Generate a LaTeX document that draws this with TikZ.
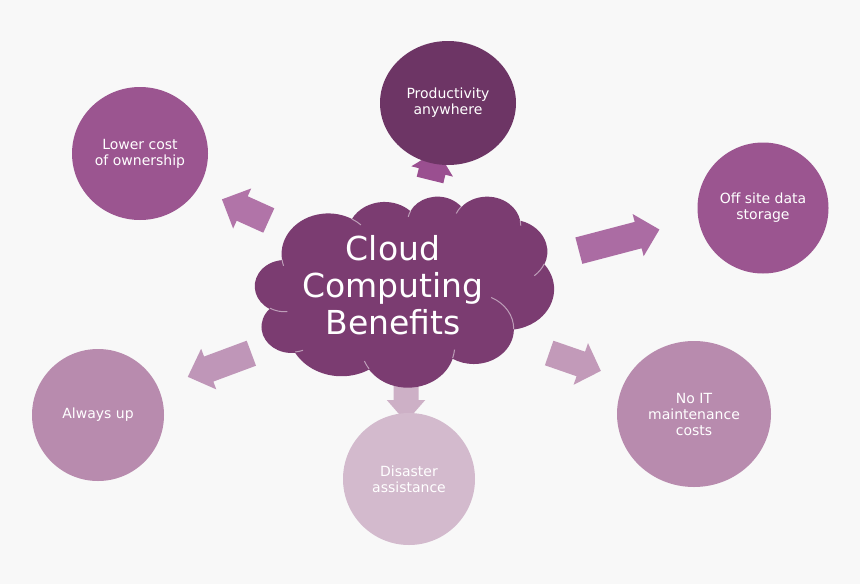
\documentclass[tikz,border=0pt]{standalone}
\usepackage{fontspec}
\setmainfont{DejaVu Sans}
\usetikzlibrary{shapes.geometric}
\definecolor{bgcol}{HTML}{F8F8F8}
\definecolor{cloudcol}{HTML}{7B3C71}
\definecolor{prodcol}{HTML}{6D3565}
\definecolor{midcol}{HTML}{9B5590}
\definecolor{lightcol}{HTML}{B88BAE}
\definecolor{palecol}{HTML}{D3BACD}
\definecolor{arrA}{HTML}{9A4F90}
\definecolor{arrB}{HTML}{B174A8}
\definecolor{arrC}{HTML}{AB6CA3}
\definecolor{arrD}{HTML}{BF96B8}
\definecolor{arrE}{HTML}{C29AB9}
\definecolor{arrF}{HTML}{CDB0C6}
\newcommand\cldcalc[4]{%
  \pgfmathparse{atan2((#1)*sin(#3),(#2)*cos(#3))}\xdef\cldS{\pgfmathresult}%
  \pgfmathparse{atan2((#1)*sin((#3)+(#4)),(#2)*cos((#3)+(#4)))}\xdef\cldE{\pgfmathresult}%
  \pgfmathparse{\cldE-\cldS}\xdef\cldT{\pgfmathresult}%
  \pgfmathparse{\cldT-360*((\cldT-(#4))>180)+360*((\cldT-(#4))<-180)}\xdef\cldD{\pgfmathresult}%
}
\newcommand\blockarrow[8]{% x y angle L stemlen stemw headw colour
  \fill[#8, shift={(#1,#2)}, rotate=#3]
    (0,{-(#6)/2}) -- (#5,{-(#6)/2}) -- (#5,{-(#7)/2}) -- (#4,0)
    -- (#5,{(#7)/2}) -- (#5,{(#6)/2}) -- (0,{(#6)/2}) -- cycle;
}
\tikzset{
  cldarc/.style n args={4}{insert path={\pgfextra{\cldcalc{#1}{#2}{#3}{#4}}
    arc[start angle=\cldS, delta angle=\cldD, x radius=#1, y radius=#2]}},
  bubble/.style={ellipse, inner sep=0pt, text=white, align=center,
    font=\fontsize{14}{16}\selectfont},
  cloudline/.style={draw=white, draw opacity=0.5, line width=1pt},
}
\begin{document}
\begin{tikzpicture}[x=1pt, y=-1pt]
\useasboundingbox (0,0) rectangle (860,584);
\fill[bgcol] (0,0) rectangle (860,584);

% block arrows
\blockarrow{430}{180}{76}{30.3}{8.8}{27.4}{42.9}{arrA}
\blockarrow{268.8}{220.5}{155.7}{51.4}{29.2}{26.8}{44}{arrB}
\blockarrow{578.85}{250.65}{14.7}{83.3}{61.3}{27.3}{43.6}{arrC}
\blockarrow{251.35}{353.2}{200.4}{67.8}{45.5}{26.7}{43.3}{arrD}
\blockarrow{549.15}{353}{-19.1}{54.7}{33.5}{26}{44}{arrE}
\blockarrow{406}{385}{-90}{37}{15}{25}{38.5}{arrF}

% cloud
\begin{scope}[shift={(255pt,-196pt)}, x=0.6921pt, y=-0.4421pt]
\fill[cloudcol] (39.00,143.70)
  [cldarc={67.53}{91.90}{-190.48748}{123.78053}]
  [cldarc={53.33}{72.67}{-144.10238}{89.94523}]
  [cldarc={43.65}{59.45}{-145.80792}{99.72302}]
  [cldarc={48.57}{65.95}{-130.98607}{117.24173}]
  [cldarc={53.33}{72.73}{-78.70888}{109.02692}]
  [cldarc={67.75}{92.20}{-46.26725}{130.269}]
  [cldarc={57.85}{78.67}{0.62502}{114.03333}]
  [cldarc={67.52}{92.15}{22.4516}{115.17255}]
  [cldarc={77.20}{105.43}{66.24263}{75.71102}]
  [cldarc={43.60}{59.18}{-274.94208}{146.73557}]
  [cldarc={43.45}{59.45}{-246.8285}{152.51885}]
  -- cycle;
\path[cloudline]
  (46.93,261.77) [cldarc={43.45}{59.45}{86.742}{26.4295}]
  (69.28,348.99) [cldarc={43.60}{59.18}{73.61047}{11.44747}]
  (164.78,390.90) [cldarc={67.52}{92.15}{137.62415}{14.0811}]
  (288.27,347.51) [cldarc={67.52}{92.15}{6.45327}{15.99835}]
  (341.29,229.54) [cldarc={57.85}{78.67}{-70.29235}{70.91737}]
  (417.98,153.54) [cldarc={53.33}{72.73}{30.31803}{27.7515}]
  (383.24,54.26) [cldarc={48.57}{65.95}{-13.74433}{14.8589}]
  (290.78,39.52) [cldarc={48.57}{65.95}{-149.18145}{18.19537}]
  (221.41,47.20) [cldarc={43.65}{59.45}{-163.49427}{17.68635}]
  (140.00,51.92) [cldarc={67.53}{91.90}{-66.70695}{12.31935}]
  (41.27,157.89) [cldarc={67.53}{91.90}{157.65435}{11.85817}];
\end{scope}
\node[text=white, align=center, font=\fontsize{33}{37}\selectfont] (cloud) at (393,285) {Cloud\\Computing\\Benefits};

% circles
\node[bubble, fill=midcol, minimum width=136pt, minimum height=133pt] (lower) at (140,153.5) {Lower cost\\of ownership};
\node[bubble, fill=prodcol, minimum width=136pt, minimum height=124pt] (prod) at (448,103) {Productivity\\anywhere};
\node[bubble, fill=midcol, minimum width=131pt, minimum height=131pt] (offsite) at (763,208) {Off site data\\storage};
\node[bubble, fill=lightcol, minimum width=154pt, minimum height=146pt] (noit) at (694,414) {No IT\\maintenance\\costs};
\node[bubble, fill=palecol, minimum width=132pt, minimum height=132pt] (disaster) at (409,479) {Disaster\\assistance};
\node[bubble, fill=lightcol, minimum width=132pt, minimum height=132pt] (alwaysup) at (98,415) {Always up};
\end{tikzpicture}
\end{document}
